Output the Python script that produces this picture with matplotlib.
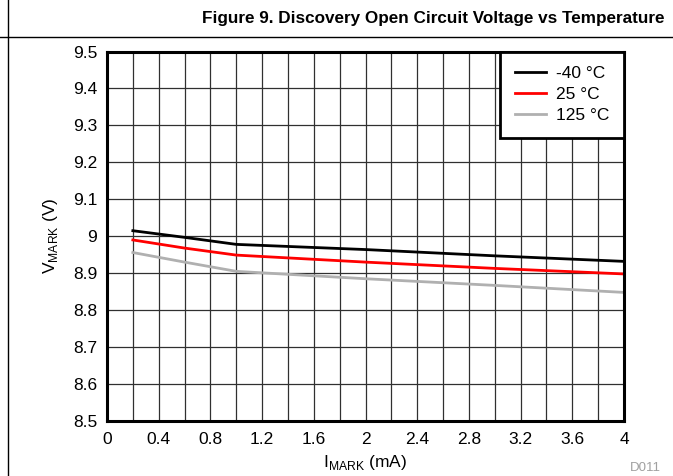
import numpy as np
import matplotlib.pyplot as plt
from matplotlib.lines import Line2D
from matplotlib.ticker import MultipleLocator

plt.rcParams['font.family'] = ['Liberation Sans', 'DejaVu Sans']
plt.rcParams['mathtext.fontset'] = 'custom'
plt.rcParams['mathtext.rm'] = 'Liberation Sans'

# Data
i_mark = [0.2, 0.6, 1.0, 2.0, 3.0, 4.0]
v_m40 = [9.015, 8.997, 8.978, 8.964, 8.947, 8.932]
v_25 = [8.990, 8.968, 8.949, 8.930, 8.913, 8.898]
v_125 = [8.956, 8.930, 8.905, 8.885, 8.867, 8.848]
labels = ['-40 °C', '25 °C', '125 °C']
colors = ['#000000', '#ff0000', '#b0b0b0']
xticks = ['0', '0.4', '0.8', '1.2', '1.6', '2', '2.4', '2.8', '3.2', '3.6', '4']
yticks = ['8.5', '8.6', '8.7', '8.8', '8.9', '9', '9.1', '9.2', '9.3', '9.4', '9.5']

fig = plt.figure(figsize=(6.73, 4.76), dpi=100)
ax = fig.add_axes([107/673, 1-421/476, (624-107)/673, (421-51.5)/476])

for y, lab, c in zip([v_m40, v_25, v_125], labels, colors):
    ax.plot(i_mark, y, color=c, lw=2, label=lab, zorder=3)

ax.set_xlim(0, 4)
ax.set_ylim(8.5, 9.5)
ax.xaxis.set_minor_locator(MultipleLocator(0.2))
ax.set_xticks(np.arange(0, 4.01, 0.4))
ax.set_xticklabels(xticks)
ax.set_yticks(np.arange(8.5, 9.51, 0.1))
ax.set_yticklabels(yticks)
ax.grid(which='both', color='#303030', lw=0.9)
ax.tick_params(which='both', length=0, labelsize=12.5)
ax.tick_params(axis='x', pad=8)
ax.tick_params(axis='y', pad=7)
for s in ax.spines.values():
    s.set_linewidth(2.2)
    s.set_zorder(4)

ax.set_xlabel(r'I$_{\mathregular{MARK}}$ (mA)', fontsize=12.5, labelpad=4)
ax.set_ylabel(r'V$_{\mathregular{MARK}}$ (V)', fontsize=12.5, labelpad=9)

leg = ax.legend(loc='upper right', frameon=True, fancybox=False, fontsize=12.5,
                borderaxespad=0, handlelength=1.8, handletextpad=0.55,
                labelspacing=0.32, borderpad=0.85)
leg.get_frame().set_edgecolor('black')
leg.get_frame().set_linewidth(2)
leg.get_frame().set_alpha(1)
leg.set_zorder(5)

fig.text(664/673, 1-18/476, 'Figure 9. Discovery Open Circuit Voltage vs Temperature',
         ha='right', va='center', fontsize=12.3, fontweight='bold')
fig.add_artist(Line2D([0, 1], [1-37/476, 1-37/476], color='black', lw=1))
fig.add_artist(Line2D([8/673, 8/673], [0, 1], color='black', lw=1))
fig.text(661/673, 1-468/476, 'D011', ha='right', va='center', fontsize=9.5, color='#a0a0a0')

plt.savefig('out.png', dpi=100)
